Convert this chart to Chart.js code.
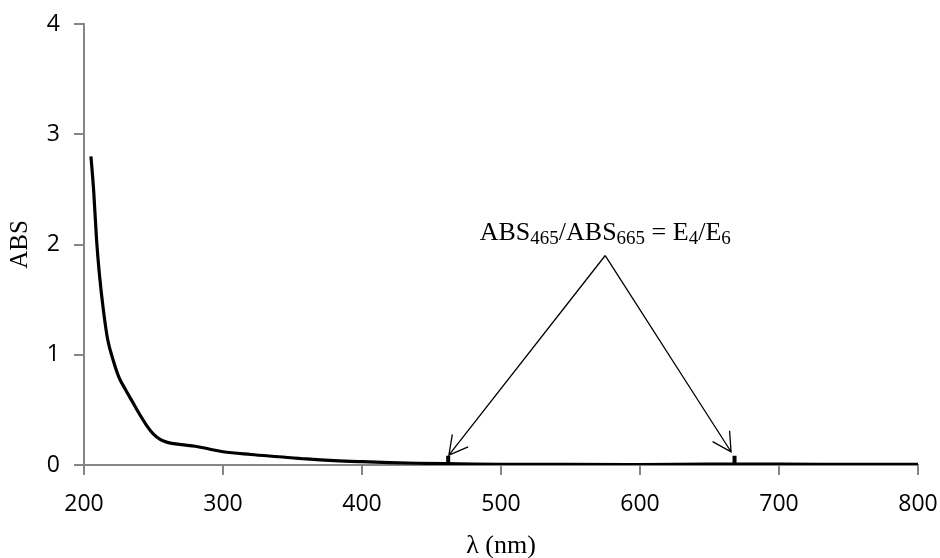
<!DOCTYPE html>
<html>
<head>
<meta charset="utf-8">
<script src="https://cdn.jsdelivr.net/npm/chart.js@4"></script>
<style>
  html, body { margin: 0; padding: 0; background: #fff; }
  #wrap { width: 940px; height: 558px; }
</style>
</head>
<body>
<div id="wrap"><canvas id="graph_abs"></canvas></div>
<script>
// UV-Vis spectrum
const wavelength = [205, 207, 209, 211, 214, 217, 221, 225, 230, 235, 240, 245, 250, 255, 260,
                    270, 280, 290, 300, 320, 340, 360, 380, 400, 420, 440, 460, 480, 500,
                    550, 600, 650, 700, 750, 800];
const absorbance = [2.80, 2.48, 2.05, 1.74, 1.40, 1.14, 0.95, 0.80, 0.68, 0.57, 0.46, 0.36, 0.28, 0.23, 0.205,
                    0.185, 0.17, 0.145, 0.12, 0.095, 0.075, 0.055, 0.04, 0.03, 0.022, 0.016, 0.012, 0.009, 0.007,
                    0.005, 0.004, 0.008, 0.008, 0.006, 0.005];

// E4 / E6 reading wavelengths and marker height
const markWl  = [462, 668];
const markAbs = 0.085;

// annotation: apex of the arrows, arrow tips, label anchor (data units)
const apex     = [575, 1.90];
const arrowTip = [[462.5, 0.09], [665.5, 0.12]];
const noteAt   = [575, 2.04];

const xTicks = [200, 300, 400, 500, 600, 700, 800];
const yTicks = [0, 1, 2, 3, 4];

const gray  = '#868686';
const serif = '"Liberation Serif", "Times New Roman", serif';
const sans  = '"Open Sans", sans-serif';

const markData = [];
markWl.forEach(w => {
  markData.push({x: w, y: 0}, {x: w, y: markAbs}, {x: w, y: null});
});

// arrows + label drawn on top, in data coordinates
const notePlugin = {
  id: 'note',
  afterDatasetsDraw(chart) {
    const {ctx, scales: {x, y}} = chart;
    const ax = x.getPixelForValue(apex[0]), ay = y.getPixelForValue(apex[1]);
    ctx.save();
    ctx.strokeStyle = '#000';
    ctx.lineWidth = 1.3;
    arrowTip.forEach(t => {
      const tx = x.getPixelForValue(t[0]), ty = y.getPixelForValue(t[1]);
      ctx.beginPath();
      ctx.moveTo(ax, ay);
      ctx.lineTo(tx, ty);
      const ang = Math.atan2(ty - ay, tx - ax);
      const len = 21, spread = 0.5;
      ctx.moveTo(tx - len * Math.cos(ang - spread), ty - len * Math.sin(ang - spread));
      ctx.lineTo(tx, ty);
      ctx.lineTo(tx - len * Math.cos(ang + spread), ty - len * Math.sin(ang + spread));
      ctx.stroke();
    });

    // ABS465/ABS665 = E4/E6 with subscripts
    const parts = [
      ['ABS', false], ['465', true], ['/ABS', false], ['665', true],
      [' = E', false], ['4', true], ['/E', false], ['6', true],
    ];
    const big = '26px ' + serif, small = '19px ' + serif;
    let w = 0;
    parts.forEach(p => { ctx.font = p[1] ? small : big; w += ctx.measureText(p[0]).width; });
    let cx = x.getPixelForValue(noteAt[0]) - w / 2;
    const by = y.getPixelForValue(noteAt[1]);
    ctx.fillStyle = '#000';
    ctx.textBaseline = 'alphabetic';
    ctx.textAlign = 'left';
    parts.forEach(p => {
      ctx.font = p[1] ? small : big;
      ctx.fillText(p[0], cx, p[1] ? by + 4 : by);
      cx += ctx.measureText(p[0]).width;
    });
    ctx.restore();
  },
};

new Chart(document.getElementById('graph_abs'), {
  type: 'line',
  data: {
    datasets: [{
      data: wavelength.map((w, i) => ({x: w, y: absorbance[i]})),
      borderColor: '#000',
      borderWidth: 3.2,
      pointRadius: 0,
      cubicInterpolationMode: 'monotone',
    }, {
      data: markData,
      borderColor: '#000',
      borderWidth: 4,
      borderCapStyle: 'butt',
      pointRadius: 0,
      spanGaps: false,
    }],
  },
  options: {
    responsive: true,
    maintainAspectRatio: false,
    animation: false,
    layout: {padding: {top: 24, right: 22, bottom: 0, left: 0}},
    plugins: {
      legend: {display: false},
      tooltip: {enabled: false},
    },
    scales: {
      x: {
        type: 'linear',
        min: 200, max: 800,
        afterBuildTicks: s => { s.ticks = xTicks.map(v => ({value: v})); },
        afterFit: s => { s.height = 93; s.paddingLeft = 0; s.paddingRight = 0; },
        border: {color: gray, width: 2},
        grid: {drawOnChartArea: false, color: gray, lineWidth: 2, tickLength: 10},
        ticks: {color: '#000', font: {family: sans, size: 23}, padding: 16, maxRotation: 0},
        title: {display: true, text: 'λ (nm)', color: '#000', font: {family: serif, size: 26, lineHeight: 0.92}, padding: {top: 0, bottom: 0}},
      },
      y: {
        min: 0, max: 4,
        afterBuildTicks: s => { s.ticks = yTicks.map(v => ({value: v})); },
        afterFit: s => { s.width = 84; s.paddingTop = 0; s.paddingBottom = 0; },
        border: {color: gray, width: 2},
        grid: {drawOnChartArea: false, color: gray, lineWidth: 2, tickLength: 10},
        ticks: {color: '#000', font: {family: sans, size: 23}, padding: 14},
        title: {display: true, text: 'ABS', color: '#000', font: {family: serif, size: 25}, padding: {top: 5, bottom: 0}},
      },
    },
  },
  plugins: [notePlugin],
});
</script>
</body>
</html>
